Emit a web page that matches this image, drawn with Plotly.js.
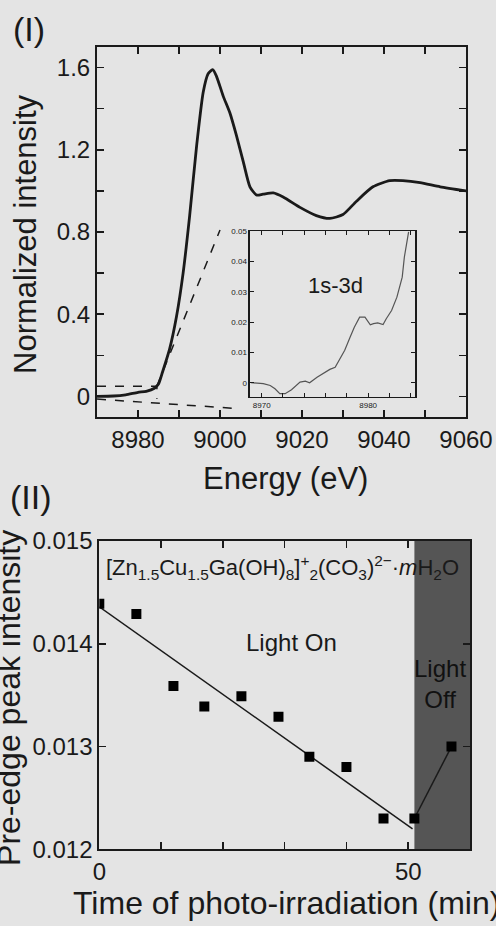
<!DOCTYPE html>
<html>
<head>
<meta charset="utf-8">
<script src="https://cdn.plot.ly/plotly-3.0.1.min.js"></script>
<style>
html,body{margin:0;padding:0;background:#e4e4e4;}
#chart{width:496px;height:926px;}
</style>
</head>
<body>
<div id="chart"></div>
<script>
// ---- Panel (I): Cu K-edge XANES ----
const energyI = [8970, 8974, 8977, 8980, 8982, 8984, 8985, 8986, 8987.7, 8989.4, 8991, 8992.6, 8994.3, 8995.9, 8997.1, 8998.2, 8999.1, 9000.8, 9002.4, 9004, 9005.7, 9007.3, 9008.9, 9010.5, 9013, 9015.4, 9019.5, 9023.5, 9026.8, 9030, 9033.3, 9037.3, 9041.4, 9044.6, 9048.8, 9053.7, 9060];
const intensityI = [0, 0.002, 0.008, 0.02, 0.025, 0.04, 0.06, 0.12, 0.23, 0.39, 0.60, 0.88, 1.22, 1.48, 1.57, 1.59, 1.56, 1.46, 1.38, 1.27, 1.14, 1.02, 0.98, 0.984, 0.99, 0.97, 0.92, 0.88, 0.866, 0.885, 0.95, 1.02, 1.05, 1.05, 1.04, 1.02, 1.00];

// zoom-indicator dashed lines (main-panel data coordinates)
const zoomBoxX = [8970, 8984.6, 8984.6];
const zoomBoxY = [0.05, 0.05, -0.013];
const connTopX = [8984.6, 9000];
const connTopY = [0.05, 0.81];
const connBotX = [8970, 9005];
const connBotY = [-0.013, -0.06];

// ---- Inset: 1s-3d pre-edge ----
const energyInset = [8969.0, 8970.15, 8970.8, 8971.25, 8971.7, 8972.2, 8972.8, 8973.6, 8974.1, 8974.5, 8975.2, 8975.8, 8976.4, 8976.9, 8977.3, 8977.8, 8978.3, 8978.7, 8979.2, 8979.7, 8980.2, 8980.5, 8980.9, 8981.4, 8981.7, 8982.2, 8982.7, 8983.2, 8983.4, 8983.8];
const intensityInset = [0, -0.0003, -0.0009, -0.002, -0.0036, -0.0036, -0.0023, 0.0002, 0.0005, 0, 0.0018, 0.003, 0.0044, 0.0051, 0.0074, 0.0107, 0.015, 0.0183, 0.0216, 0.0216, 0.0191, 0.0195, 0.0197, 0.0192, 0.0211, 0.0238, 0.0282, 0.0348, 0.0414, 0.0497];

// ---- Panel (II): pre-edge peak intensity vs time ----
const timeMin = [0, 6, 12, 17, 23, 29, 34, 40, 46, 51, 57];
const peakIntensity = [0.01439, 0.01429, 0.01359, 0.01339, 0.01349, 0.01329, 0.01290, 0.01280, 0.01230, 0.01230, 0.01300];
const fitX = [0, 50.7];
const fitY = [0.01436, 0.01220];
const offX = [51, 57];
const offY = [0.01230, 0.01300];
const lightOffStart = 51;
const lightOffEnd = 60;

const FONT = "Liberation Sans, Arial, Helvetica, sans-serif";
const INK = "#1a1a1a";
const BG = "#e4e4e4";

const traces = [
  {x: energyI, y: intensityI, xaxis: 'x', yaxis: 'y', mode: 'lines',
   line: {color: INK, width: 2.8, shape: 'spline', smoothing: 0.6}, hoverinfo: 'skip'},
  {x: zoomBoxX, y: zoomBoxY, xaxis: 'x', yaxis: 'y', mode: 'lines',
   line: {color: INK, width: 1.5, dash: 'dash'}, hoverinfo: 'skip'},
  {x: connTopX, y: connTopY, xaxis: 'x', yaxis: 'y', mode: 'lines',
   line: {color: INK, width: 1.5, dash: 'dash'}, hoverinfo: 'skip'},
  {x: connBotX, y: connBotY, xaxis: 'x', yaxis: 'y', mode: 'lines',
   line: {color: INK, width: 1.5, dash: 'dash'}, hoverinfo: 'skip'},
  {x: energyInset, y: intensityInset, xaxis: 'x3', yaxis: 'y3', mode: 'lines',
   line: {color: '#555', width: 1.2}, hoverinfo: 'skip'},
  {x: fitX, y: fitY, xaxis: 'x2', yaxis: 'y2', mode: 'lines',
   line: {color: INK, width: 1.5}, hoverinfo: 'skip'},
  {x: offX, y: offY, xaxis: 'x2', yaxis: 'y2', mode: 'lines',
   line: {color: INK, width: 1.5}, hoverinfo: 'skip'},
  {x: timeMin, y: peakIntensity, xaxis: 'x2', yaxis: 'y2', mode: 'markers',
   marker: {symbol: 'square', size: 10, color: '#000'}, hoverinfo: 'skip'}
];

function ax(extra) {
  return Object.assign({
    showline: true, linecolor: INK, linewidth: 2, mirror: 'ticks',
    ticks: 'inside', ticklen: 7, tickwidth: 1.5, tickcolor: INK,
    showgrid: false, zeroline: false, fixedrange: true,
    tickfont: {family: FONT, size: 24, color: INK}
  }, extra);
}

const layout = {
  width: 496, height: 926,
  margin: {l: 0, r: 0, t: 0, b: 0},
  paper_bgcolor: BG, plot_bgcolor: BG,
  showlegend: false,
  font: {family: FONT, color: INK},
  xaxis: ax({domain: [0.1956, 0.9395], range: [8970, 9060], anchor: 'y',
    tick0: 8980, dtick: 20,
    minor: {dtick: 10, ticks: 'inside', ticklen: 7, tickwidth: 1.5, tickcolor: INK}}),
  yaxis: ax({domain: [0.5497, 0.9492], range: [-0.1, 1.7], anchor: 'x',
    tick0: 0, dtick: 0.4,
    minor: {dtick: 0.2, ticks: 'inside', ticklen: 7, tickwidth: 1.5, tickcolor: INK}}),
  xaxis3: ax({domain: [0.504, 0.8367], range: [8968.9, 8984.4], anchor: 'y3',
    tick0: 8970, dtick: 10, linewidth: 1.5, ticklen: 4, tickwidth: 1,
    tickfont: {family: FONT, size: 8, color: INK},
    minor: {dtick: 2, ticks: 'inside', ticklen: 4, tickwidth: 1, tickcolor: INK}}),
  yaxis3: ax({domain: [0.5713, 0.7505], range: [-0.0047, 0.05], anchor: 'x3',
    tick0: 0, dtick: 0.01, linewidth: 1.5, ticklen: 4, tickwidth: 1,
    tickfont: {family: FONT, size: 8, color: INK}}),
  xaxis2: ax({domain: [0.2002, 0.9476], range: [0, 60], anchor: 'y2',
    tick0: 0, dtick: 50,
    minor: {dtick: 10, ticks: 'inside', ticklen: 7, tickwidth: 1.5, tickcolor: INK}}),
  yaxis2: ax({domain: [0.0828, 0.4158], range: [0.012, 0.015], anchor: 'x2',
    tick0: 0.012, dtick: 0.001, tickformat: '.3f'}),
  shapes: [
    {type: 'rect', xref: 'x2', yref: 'y2 domain', x0: lightOffStart, x1: lightOffEnd,
     y0: 0, y1: 1, fillcolor: '#555555', line: {width: 0}, layer: 'below'}
  ],
  annotations: [
    {text: '(I)', xref: 'paper', yref: 'paper', x: 0.0585, y: 0.9687,
     xanchor: 'center', yanchor: 'middle', showarrow: false, font: {size: 34, family: FONT, color: INK}},
    {text: '(II)', xref: 'paper', yref: 'paper', x: 0.0625, y: 0.4633,
     xanchor: 'center', yanchor: 'middle', showarrow: false, font: {size: 34, family: FONT, color: INK}},
    {text: 'Normalized intensity', xref: 'paper', yref: 'paper', x: 0.0504, y: 0.7473,
     textangle: -90, xanchor: 'center', yanchor: 'middle', showarrow: false,
     font: {size: 31, family: FONT, color: INK}},
    {text: 'Energy (eV)', xref: 'paper', yref: 'paper', x: 0.5746, y: 0.4838,
     xanchor: 'center', yanchor: 'middle', showarrow: false, font: {size: 31, family: FONT, color: INK}},
    {text: 'Pre-edge peak intensity', xref: 'paper', yref: 'paper', x: 0.018, y: 0.2462,
     textangle: -90, xanchor: 'center', yanchor: 'middle', showarrow: false,
     font: {size: 32, family: FONT, color: INK}},
    {text: 'Time of photo-irradiation (min)', xref: 'paper', yref: 'paper', x: 0.5786, y: 0.0248,
     xanchor: 'center', yanchor: 'middle', showarrow: false, font: {size: 32, family: FONT, color: INK}},
    {text: '[Zn<sub>1.5</sub>Cu<sub>1.5</sub>Ga(OH)<sub>8</sub>]<sup>+</sup><sub>2</sub>(CO<sub>3</sub>)<sup>2−</sup>·<i>m</i>H<sub>2</sub>O',
     xref: 'x2', yref: 'y2', x: 29.6, y: 0.014737, xanchor: 'center', yanchor: 'middle',
     showarrow: false, font: {size: 22, family: FONT, color: INK}},
    {text: 'Light On', xref: 'x2', yref: 'y2', x: 31.1, y: 0.01401,
     xanchor: 'center', yanchor: 'middle', showarrow: false, font: {size: 24, family: FONT, color: INK}},
    {text: 'Light<br>Off', xref: 'x2', yref: 'y2', x: 55.1, y: 0.01361,
     xanchor: 'center', yanchor: 'middle', showarrow: false, font: {size: 24, family: FONT, color: '#111'}},
    {text: '1s-3d', xref: 'x3', yref: 'y3', x: 8976.9, y: 0.032,
     xanchor: 'center', yanchor: 'middle', showarrow: false, font: {size: 22, family: FONT, color: INK}}
  ]
};

Plotly.newPlot('chart', traces, layout, {staticPlot: true, displayModeBar: false});
</script>
</body>
</html>
